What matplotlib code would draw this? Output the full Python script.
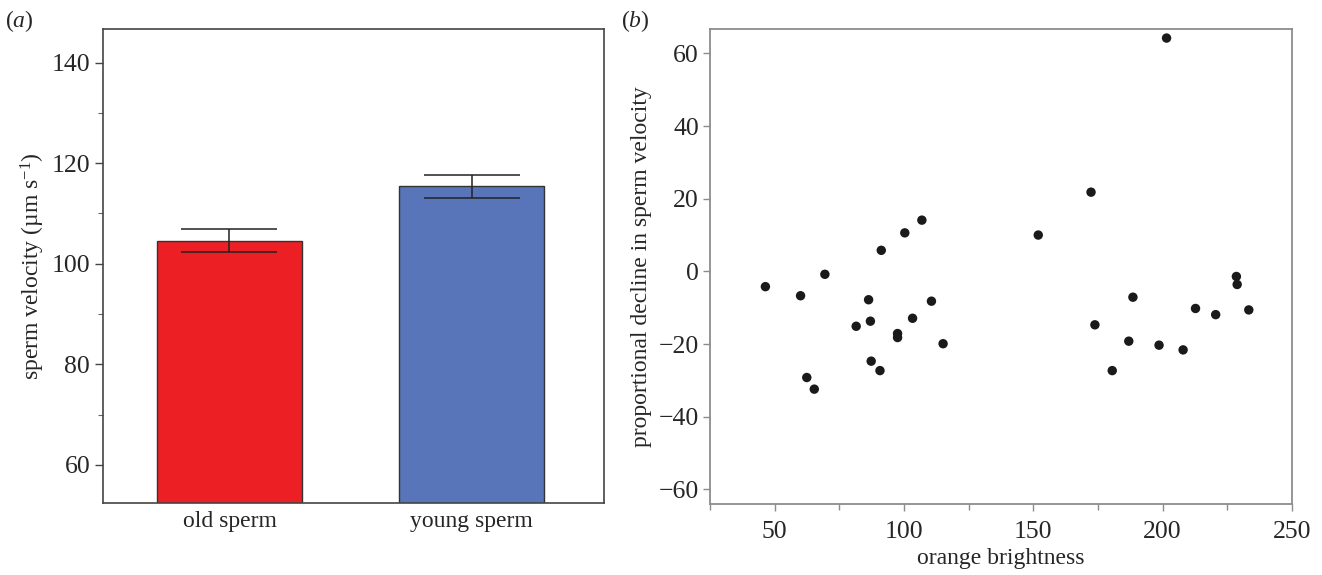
import numpy as np
import matplotlib
matplotlib.use('Agg')
import matplotlib.pyplot as plt
from matplotlib.ticker import MultipleLocator

plt.rcParams['font.family'] = ['Liberation Serif', 'DejaVu Serif']
plt.rcParams['mathtext.fontset'] = 'custom'
plt.rcParams['mathtext.rm'] = 'Liberation Serif'
plt.rcParams['mathtext.it'] = 'Liberation Serif:italic'

# (a) mean sperm velocity
groups = ['old sperm', 'young sperm']
velocity = [104.6, 115.4]
velocity_err = [2.3, 2.3]
bar_colors = ['#ec2024', '#5775b8']

# (b) proportional decline vs orange brightness
brightness = [46.4, 60.0, 69.4, 62.4, 65.3, 81.5, 86.3, 87.0, 87.3, 90.7, 91.2,
              97.5, 97.5, 100.3, 103.3, 106.9, 110.6, 115.1, 151.9, 172.3, 173.8,
              180.5, 186.9, 188.5, 198.6, 201.5, 207.9, 212.7, 220.5, 228.5, 228.8, 233.3]
decline = [-4.2, -6.7, -0.8, -29.2, -32.4, -15.1, -7.8, -13.7, -24.7, -27.3, 5.8,
           -17.1, -18.2, 10.6, -12.9, 14.1, -8.2, -19.9, 10.0, 21.8, -14.7,
           -27.3, -19.2, -7.1, -20.3, 64.2, -21.6, -10.2, -11.9, -1.4, -3.6, -10.6]

TICK_FS = 18.5
LABEL_FS = 17
TXT = '#262626'

fig = plt.figure(figsize=(13.22, 5.75), dpi=100)

# ---- panel a ----
ax1 = fig.add_axes([0.0777, 0.1257, 0.3792, 0.8233])
xpos = np.arange(len(groups))
ax1.bar(xpos, velocity, width=0.6, color=bar_colors, edgecolor='#333333', linewidth=1.0, zorder=2)
ax1.errorbar(xpos, velocity, yerr=velocity_err, fmt='none', ecolor='#222222',
             elinewidth=1.1, capsize=34.5, capthick=1.1, zorder=3)
ax1.set_xlim(-0.523, 1.546)
ax1.set_ylim(52.5, 146.6)
ax1.set_xticks(xpos)
ax1.set_xticklabels(groups, fontsize=LABEL_FS, color=TXT)
ax1.tick_params(axis='x', length=0, pad=6)
ax1.yaxis.set_major_locator(MultipleLocator(20))
ax1.yaxis.set_minor_locator(MultipleLocator(10))
ax1.tick_params(axis='y', which='major', direction='out', length=6, width=1, colors='#444444',
                labelsize=TICK_FS, labelcolor=TXT, pad=3)
ax1.tick_params(axis='y', which='minor', direction='out', length=3.5, width=0.8, colors='#666666')
ax1.set_ylabel('sperm velocity (µm s$^{-1}$)', fontsize=LABEL_FS, color=TXT, labelpad=3)
for s in ax1.spines.values():
    s.set_color('#444444')
    s.set_linewidth(1.2)
fig.text(0.004, 0.964, r'($\it{a}$)', fontsize=LABEL_FS, va='center', ha='left', color=TXT)

# ---- panel b ----
ax2 = fig.add_axes([0.5371, 0.1235, 0.4402, 0.8261])
ax2.scatter(brightness, decline, s=46, color='#1a1a1a', edgecolors='none', zorder=3)
ax2.set_xlim(25, 250)
ax2.set_ylim(-64.0, 66.7)
ax2.xaxis.set_major_locator(MultipleLocator(50))
ax2.xaxis.set_minor_locator(MultipleLocator(25))
ax2.yaxis.set_major_locator(MultipleLocator(20))
ax2.tick_params(which='major', direction='out', length=5, width=1, colors='#8c8c8c',
                labelsize=TICK_FS, labelcolor=TXT)
ax2.tick_params(which='minor', direction='out', length=4, width=1, colors='#8c8c8c')
ax2.tick_params(axis='x', pad=7)
ax2.tick_params(axis='y', pad=3)
ax2.set_xlabel('orange brightness', fontsize=LABEL_FS, color=TXT, labelpad=4)
ax2.set_ylabel('proportional decline in sperm velocity', fontsize=LABEL_FS, color=TXT, labelpad=5)
for s in ax2.spines.values():
    s.set_color('#8c8c8c')
    s.set_linewidth(1.3)
fig.text(0.470, 0.964, r'($\it{b}$)', fontsize=LABEL_FS, va='center', ha='left', color=TXT)

fig.savefig('out.png', dpi=100)
